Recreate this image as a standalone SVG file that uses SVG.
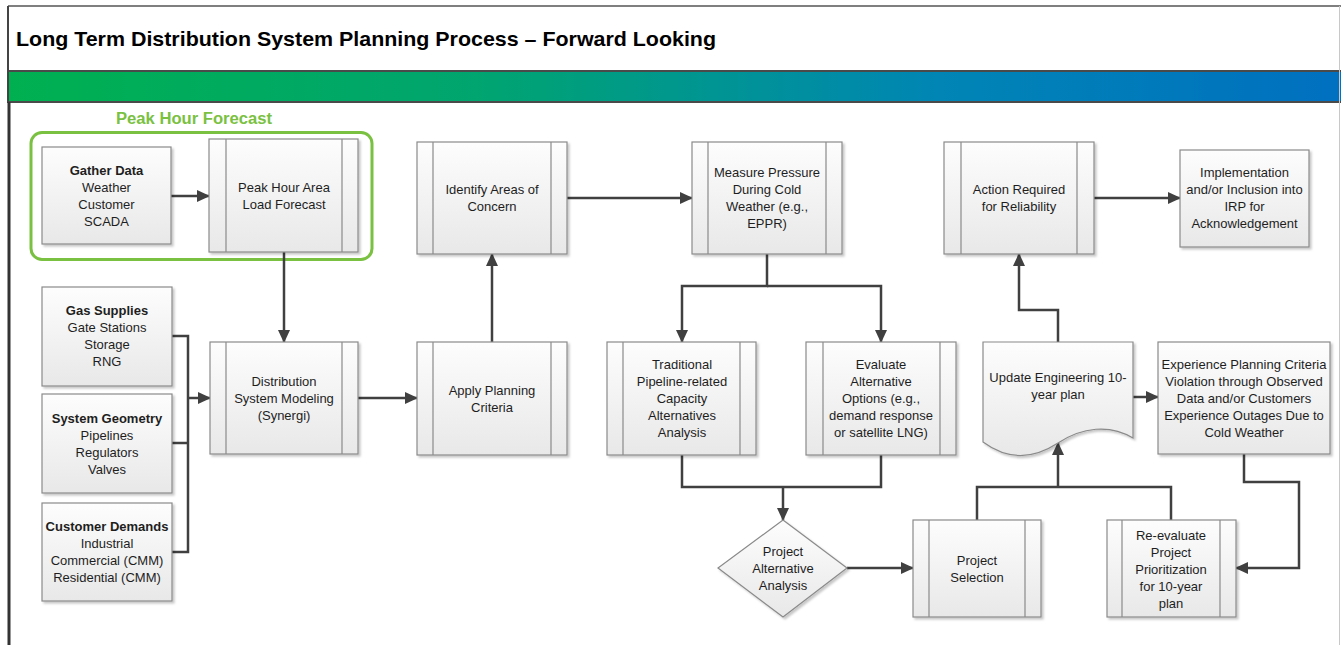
<svg xmlns="http://www.w3.org/2000/svg" width="1341" height="645" viewBox="0 0 1341 645">
<style>
  text { font-family: "Liberation Sans", Arial, sans-serif; font-size: 13px; fill: #1e1e1e; text-anchor: middle; }
  .b { font-weight: bold; }
  .box { fill: url(#boxg); stroke: #8a8a8a; stroke-width: 1.2; filter: url(#sh); }
  .bar { stroke: #8a8a8a; stroke-width: 1.2; fill: none; }
  .con { fill: none; stroke: #404040; stroke-width: 2.5; }
  .arr { marker-end: url(#ah); }
</style>
<defs>
  <linearGradient id="band" x1="0" y1="0" x2="1" y2="0">
    <stop offset="0" stop-color="#00b050"/>
    <stop offset="0.35" stop-color="#00a56f"/>
    <stop offset="0.7" stop-color="#0085b5"/>
    <stop offset="1" stop-color="#0070c0"/>
  </linearGradient>
  <linearGradient id="boxg" x1="0" y1="0" x2="0" y2="1">
    <stop offset="0" stop-color="#fdfdfd"/>
    <stop offset="1" stop-color="#e8e8e8"/>
  </linearGradient>
  <filter id="sh" x="-10%" y="-10%" width="125%" height="125%">
    <feDropShadow dx="2" dy="2" stdDeviation="1.2" flood-color="#000" flood-opacity="0.22"/>
  </filter>
  <marker id="ah" viewBox="0 0 13 12" refX="12" refY="6" markerWidth="13" markerHeight="12" markerUnits="userSpaceOnUse" orient="auto">
    <path d="M0,0 L13,6 L0,12 Z" fill="#404040"/>
  </marker>
</defs>

<!-- frame -->
<rect x="0" y="0" width="1341" height="645" fill="#ffffff"/>
<line x1="8" y1="6" x2="1341" y2="6" stroke="#555" stroke-width="1.6"/>
<rect x="9" y="71" width="1332" height="31" fill="url(#band)"/>
<line x1="8" y1="71" x2="1341" y2="71" stroke="#4a4a4a" stroke-width="1.8"/>
<line x1="8" y1="102" x2="1341" y2="102" stroke="#4a4a4a" stroke-width="1.8"/>
<line x1="8" y1="6" x2="8" y2="103" stroke="#444" stroke-width="2"/>
<line x1="9" y1="102" x2="9" y2="645" stroke="#333" stroke-width="3"/>
<line x1="1339.5" y1="6" x2="1339.5" y2="645" stroke="#c8c8c8" stroke-width="1"/>
<text x="16" y="46" class="b" style="text-anchor:start;font-size:21px;fill:#000" textLength="700" lengthAdjust="spacingAndGlyphs">Long Term Distribution System Planning Process – Forward Looking</text>

<!-- peak hour forecast group -->
<g id="peak-hour-forecast">
  <rect x="31" y="132.5" width="341" height="127" rx="11" fill="none" stroke="#7ac142" stroke-width="3"/>
  <text x="116" y="124" class="b" style="text-anchor:start;font-size:16px;fill:#7ac142" textLength="156" lengthAdjust="spacingAndGlyphs">Peak Hour Forecast</text>
</g>

<!-- connectors -->
<g id="connectors">
  <path class="con arr" d="M171,196 H209"/>
  <path class="con arr" d="M284,252 V342"/>
  <path class="con" d="M172,336 H188 V552 H172"/>
  <path class="con" d="M172,443 H188"/>
  <path class="con arr" d="M188,398 H210"/>
  <path class="con arr" d="M358,398 H417"/>
  <path class="con arr" d="M492,342 V254"/>
  <path class="con arr" d="M567,198 H692"/>
  <path class="con arr" d="M767,254 V286 H682 V342"/>
  <path class="con arr" d="M767,286 H881 V342"/>
  <path class="con" d="M682,455 V487 H881 V455"/>
  <path class="con arr" d="M783,487 V520"/>
  <path class="con arr" d="M847,568 H913"/>
  <path class="con" d="M977,520 V487 H1171 V520"/>
  <path class="con arr" d="M1058,487 V443"/>
  <path class="con arr" d="M1058,342 V310 H1019 V254"/>
  <path class="con arr" d="M1094,198 H1180"/>
  <path class="con arr" d="M1133,397 H1158"/>
  <path class="con arr" d="M1244,454 V482 H1299 V568 H1236"/>
</g>

<g id="gather-data">
  <rect class="box" x="42" y="147" width="129" height="97"/>
  <text x="106.5" y="174.5" class="b">Gather Data</text>
  <text x="106.5" y="191.5">Weather</text>
  <text x="106.5" y="208.5">Customer</text>
  <text x="106.5" y="225.5">SCADA</text>
</g>

<g id="peak-hour-area-load-forecast">
  <rect class="box" x="209" y="139" width="149" height="113"/>
  <path class="bar" d="M226,139 V252 M342,139 V252"/>
  <text x="284" y="191.5">Peak Hour Area</text>
  <text x="284" y="208.5">Load Forecast</text>
</g>

<g id="gas-supplies">
  <rect class="box" x="42" y="287" width="130" height="99"/>
  <text x="107" y="314.5" class="b">Gas Supplies</text>
  <text x="107" y="331.5">Gate Stations</text>
  <text x="107" y="348.5">Storage</text>
  <text x="107" y="365.5">RNG</text>
</g>

<g id="system-geometry">
  <rect class="box" x="42" y="394" width="130" height="99"/>
  <text x="107" y="422.5" class="b">System Geometry</text>
  <text x="107" y="439.5">Pipelines</text>
  <text x="107" y="456.5">Regulators</text>
  <text x="107" y="473.5">Valves</text>
</g>

<g id="customer-demands">
  <rect class="box" x="42" y="503" width="130" height="98"/>
  <text x="107" y="530.5" class="b">Customer Demands</text>
  <text x="107" y="547.5">Industrial</text>
  <text x="107" y="564.5">Commercial (CMM)</text>
  <text x="107" y="581.5">Residential (CMM)</text>
</g>

<g id="distribution-system-modeling">
  <rect class="box" x="210" y="342" width="148" height="112"/>
  <path class="bar" d="M226,342 V454 M342,342 V454"/>
  <text x="284" y="385.5">Distribution</text>
  <text x="284" y="402.5">System Modeling</text>
  <text x="284" y="419.5">(Synergi)</text>
</g>

<g id="apply-planning-criteria">
  <rect class="box" x="417" y="342" width="150" height="113"/>
  <path class="bar" d="M433,342 V455 M551,342 V455"/>
  <text x="492" y="394.5">Apply Planning</text>
  <text x="492" y="411.5">Criteria</text>
</g>

<g id="identify-areas-of-concern">
  <rect class="box" x="417" y="142" width="150" height="112"/>
  <path class="bar" d="M433,142 V254 M551,142 V254"/>
  <text x="492" y="193.5">Identify Areas of</text>
  <text x="492" y="210.5">Concern</text>
</g>

<g id="measure-pressure">
  <rect class="box" x="692" y="142" width="150" height="112"/>
  <path class="bar" d="M708,142 V254 M826,142 V254"/>
  <text x="767" y="176.5">Measure Pressure</text>
  <text x="767" y="193.5">During Cold</text>
  <text x="767" y="210.5">Weather (e.g.,</text>
  <text x="767" y="227.5">EPPR)</text>
</g>

<g id="traditional-alternatives">
  <rect class="box" x="607" y="342" width="149" height="113"/>
  <path class="bar" d="M623,342 V455 M740,342 V455"/>
  <text x="682" y="368.5">Traditional</text>
  <text x="682" y="385.5">Pipeline-related</text>
  <text x="682" y="402.5">Capacity</text>
  <text x="682" y="419.5">Alternatives</text>
  <text x="682" y="436.5">Analysis</text>
</g>

<g id="evaluate-alternative-options">
  <rect class="box" x="806" y="342" width="150" height="113"/>
  <path class="bar" d="M823,342 V455 M940,342 V455"/>
  <text x="881" y="368.5">Evaluate</text>
  <text x="881" y="385.5">Alternative</text>
  <text x="881" y="402.5">Options (e.g.,</text>
  <text x="881" y="419.5">demand response</text>
  <text x="881" y="436.5">or satellite LNG)</text>
</g>

<g id="project-alternative-analysis">
  <polygon class="box" points="783,520 847,568 783,617 718,568"/>
  <text x="783" y="555.5">Project</text>
  <text x="783" y="572.5">Alternative</text>
  <text x="783" y="589.5">Analysis</text>
</g>

<g id="project-selection">
  <rect class="box" x="913" y="520" width="128" height="97"/>
  <path class="bar" d="M929,520 V617 M1025,520 V617"/>
  <text x="977" y="564.5">Project</text>
  <text x="977" y="581.5">Selection</text>
</g>

<g id="re-evaluate-prioritization">
  <rect class="box" x="1107" y="520" width="129" height="97"/>
  <path class="bar" d="M1122,520 V617 M1220,520 V617"/>
  <text x="1171" y="539.5">Re-evaluate</text>
  <text x="1171" y="556.5">Project</text>
  <text x="1171" y="573.5">Prioritization</text>
  <text x="1171" y="590.5">for 10-year</text>
  <text x="1171" y="607.5">plan</text>
</g>

<g id="update-engineering-plan">
  <path class="box" d="M983,342 H1133 V438 C1110,424 1082,427 1058,443 C1035,458 1010,462 983,442 Z"/>
  <text x="1058" y="381.5">Update Engineering 10-</text>
  <text x="1058" y="398.5">year plan</text>
</g>

<g id="experience-violation">
  <rect class="box" x="1158" y="342" width="172" height="112"/>
  <text x="1244" y="368.5">Experience Planning Criteria</text>
  <text x="1244" y="385.5">Violation through Observed</text>
  <text x="1244" y="402.5">Data and/or Customers</text>
  <text x="1244" y="419.5">Experience Outages Due to</text>
  <text x="1244" y="436.5">Cold Weather</text>
</g>

<g id="action-required">
  <rect class="box" x="944" y="142" width="150" height="112"/>
  <path class="bar" d="M961,142 V254 M1077,142 V254"/>
  <text x="1019" y="193.5">Action Required</text>
  <text x="1019" y="210.5">for Reliability</text>
</g>

<g id="implementation">
  <rect class="box" x="1180" y="150" width="129" height="97"/>
  <text x="1244.5" y="176.5">Implementation</text>
  <text x="1244.5" y="193.5">and/or Inclusion into</text>
  <text x="1244.5" y="210.5">IRP for</text>
  <text x="1244.5" y="227.5">Acknowledgement</text>
</g>
</svg>
